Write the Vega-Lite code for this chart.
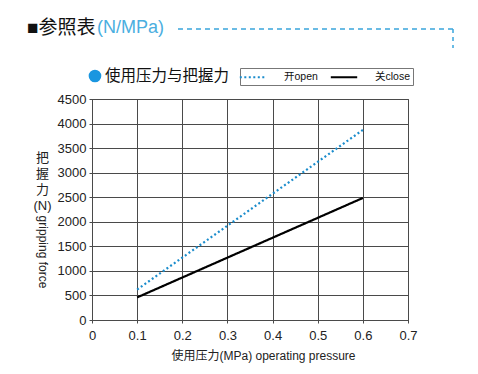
{
  "$schema": "https://vega.github.io/schema/vega-lite/v6.json",
  "width": 316,
  "height": 221,
  "autosize": "none",
  "padding": {"left": 92, "top": 99, "right": 70, "bottom": 54},
  "background": "white",
  "config": {
    "font": "Liberation Sans, Noto Sans CJK SC, sans-serif",
    "view": {"stroke": "#444", "strokeWidth": 1},
    "axis": {
      "gridColor": "#4a4a4a",
      "gridOpacity": 1,
      "gridWidth": 1,
      "domainColor": "#4a4a4a",
      "tickColor": "#4a4a4a",
      "tickSize": 3,
      "labelColor": "#222",
      "labelFontSize": 13,
      "labelFlush": false,
      "labelOverlap": false,
      "labelBound": false,
      "titleColor": "#222",
      "titleFontWeight": "normal"
    }
  },
  "layer": [
    {
      "data": {
        "values": [
          {"pressure": 0.1, "force": 620, "state": "开open"},
          {"pressure": 0.6, "force": 3870, "state": "开open"},
          {"pressure": 0.1, "force": 460, "state": "关close"},
          {"pressure": 0.6, "force": 2485, "state": "关close"}
        ]
      },
      "mark": {"type": "line", "strokeWidth": 2.2},
      "encoding": {
        "x": {
          "field": "pressure",
          "type": "quantitative",
          "scale": {"domain": [0, 0.7], "nice": false, "zero": false},
          "axis": {
            "values": [0, 0.1, 0.2, 0.3, 0.4, 0.5, 0.6, 0.7],
            "format": ".1~f",
            "labelPadding": 6,
            "labelOverlap": false,
            "title": "使用压力(MPa) operating pressure",
            "titleFontSize": 12,
            "titleX": 171,
            "titleY": 35,
            "titleBaseline": "middle",
            "titleAnchor": "middle"
          }
        },
        "y": {
          "field": "force",
          "type": "quantitative",
          "scale": {"domain": [0, 4500], "nice": false, "zero": false},
          "axis": {
            "values": [0, 500, 1000, 1500, 2000, 2500, 3000, 3500, 4000, 4500],
            "tickCount": 10,
            "format": "d",
            "labelPadding": 3,
            "labelOverlap": false,
            "title": ["把", "握", "力", "(N)"],
            "titleAngle": 0,
            "titleAlign": "center",
            "titleBaseline": "top",
            "titleX": -50,
            "titleY": 52,
            "titleFontSize": 13,
            "titleLineHeight": 16
          }
        },
        "color": {
          "field": "state",
          "type": "nominal",
          "scale": {"domain": ["开open", "关close"], "range": ["#1a8ccc", "#000000"]},
          "legend": {
            "orient": "none",
            "legendX": 148,
            "legendY": -31,
            "direction": "horizontal",
            "title": null,
            "strokeColor": "#777",
            "padding": 2,
            "symbolType": "M-2.2,0H2.2",
            "symbolSize": 144,
            "symbolStrokeWidth": 2,
            "symbolOffset": 4,
            "labelFontSize": 10.5,
            "labelColor": "#111",
            "columnPadding": 8,
            "labelOffset": 24
          }
        },
        "strokeDash": {
          "field": "state",
          "type": "nominal",
          "scale": {"domain": ["开open", "关close"], "range": [[2, 2.5], [1, 0]]},
          "legend": {
            "orient": "none",
            "legendX": 148,
            "legendY": -31,
            "direction": "horizontal",
            "title": null,
            "strokeColor": "#777",
            "padding": 2,
            "symbolType": "M-2.2,0H2.2",
            "symbolSize": 144,
            "symbolStrokeWidth": 2,
            "symbolOffset": 4,
            "labelFontSize": 10.5,
            "labelColor": "#111",
            "columnPadding": 8,
            "labelOffset": 24
          }
        }
      }
    },
    {
      "data": {"values": [{}]},
      "mark": {"type": "text", "text": "■参照表", "align": "left", "baseline": "middle", "fontSize": 19, "color": "#111"},
      "encoding": {
        "x": {"datum": -0.144, "type": "quantitative"},
        "y": {"datum": 5946, "type": "quantitative"}
      }
    },
    {
      "data": {"values": [{}]},
      "mark": {"type": "text", "text": "(N/MPa)", "align": "left", "baseline": "middle", "fontSize": 18, "color": "#4aaee0"},
      "encoding": {
        "x": {"datum": 0.0111, "type": "quantitative"},
        "y": {"datum": 5946, "type": "quantitative"}
      }
    },
    {
      "data": {"values": [{}]},
      "mark": {"type": "rule", "color": "#3aa5dc", "strokeWidth": 1.5, "strokeDash": [5, 4]},
      "encoding": {
        "x": {"datum": 0.1905, "type": "quantitative"},
        "x2": {"datum": 0.7997},
        "y": {"datum": 5925, "type": "quantitative"}
      }
    },
    {
      "data": {"values": [{}]},
      "mark": {"type": "rule", "color": "#3aa5dc", "strokeWidth": 1.5, "strokeDash": [4, 4]},
      "encoding": {
        "x": {"datum": 0.7997, "type": "quantitative"},
        "y": {"datum": 5925, "type": "quantitative"},
        "y2": {"datum": 5538}
      }
    },
    {
      "data": {"values": [{}]},
      "mark": {"type": "point", "filled": true, "size": 160, "color": "#1a96e0", "opacity": 1},
      "encoding": {
        "x": {"datum": 0.0066, "type": "quantitative"},
        "y": {"datum": 4968, "type": "quantitative"}
      }
    },
    {
      "data": {"values": [{}]},
      "mark": {"type": "text", "text": "使用压力与把握力", "align": "left", "baseline": "middle", "fontSize": 15.5, "color": "#111"},
      "encoding": {
        "x": {"datum": 0.0288, "type": "quantitative"},
        "y": {"datum": 4968, "type": "quantitative"}
      }
    },
    {
      "data": {"values": [{}]},
      "mark": {"type": "text", "text": "gripping force", "align": "center", "baseline": "middle", "fontSize": 12, "angle": 90, "color": "#222"},
      "encoding": {
        "x": {"datum": -0.1085, "type": "quantitative"},
        "y": {"datum": 1385, "type": "quantitative"}
      }
    }
  ]
}
